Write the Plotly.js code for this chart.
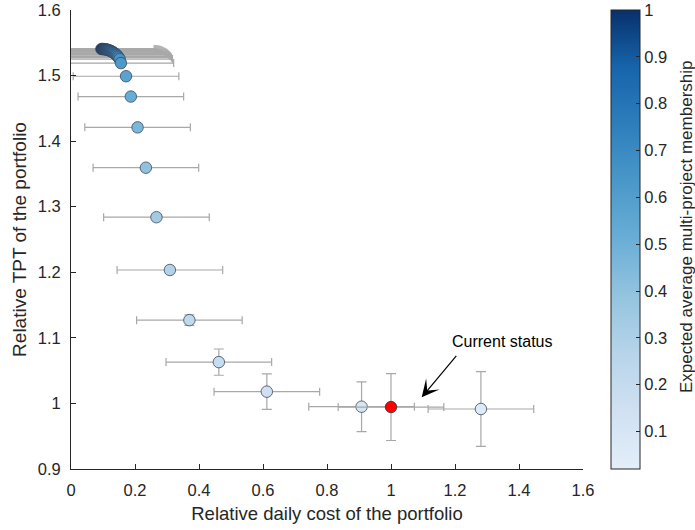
<!DOCTYPE html>
<html>
<head>
<meta charset="utf-8">
<script src="https://cdn.plot.ly/plotly-3.0.1.min.js"></script>
<style>html,body{margin:0;padding:0;background:#fff;}#chart{width:695px;height:530px;}</style>
</head>
<body>
<div id="chart"></div>
<script>
// Blue points (portfolio scenarios), ordered darkest to lightest
const cost = [0.095,0.098,0.101,0.104,0.107,0.110,0.113,0.116,0.119,0.122,0.125,0.128,0.131,0.134,0.137,0.140,0.143,0.146,0.149,0.152,
              0.156,0.172,0.187,0.208,0.234,0.267,0.309,0.370,0.462,0.612,0.908,1.281];
const tpt  = [1.5405,1.5405,1.5404,1.5403,1.5401,1.5398,1.5395,1.539,1.5385,1.538,1.5372,1.5365,1.5357,1.5347,1.5336,1.5323,1.531,1.5293,1.5275,1.5252,
              1.519,1.499,1.468,1.421,1.3595,1.284,1.2035,1.127,1.063,1.018,0.995,0.9915];
const costErr = [0.165,0.165,0.165,0.165,0.165,0.165,0.165,0.165,0.165,0.165,0.165,0.165,0.165,0.165,0.165,0.165,0.165,0.165,0.165,0.165,
                 0.165,0.165,0.165,0.165,0.165,0.165,0.165,0.165,0.165,0.165,0.165,0.165];
const tptErr = [0.001,0.001,0.001,0.001,0.001,0.001,0.001,0.001,0.001,0.001,0.001,0.001,0.001,0.001,0.001,0.001,0.001,0.001,0.001,0.001,
                0.001,0.001,0.0015,0.002,0.002,0.003,0.004,0.008,0.020,0.027,0.038,0.057];
const membership = [1.0,0.99,0.975,0.96,0.945,0.93,0.91,0.895,0.875,0.86,0.84,0.82,0.80,0.78,0.76,0.74,0.72,0.70,0.68,0.655,
                    0.62,0.57,0.52,0.46,0.40,0.34,0.28,0.23,0.19,0.15,0.10,0.06];
// Current status point
const curCost = [1.0];
const curTpt = [0.9945];
const curCostErr = [0.165];
const curTptErr = [0.051];

const xTicks = [0,0.2,0.4,0.6,0.8,1,1.2,1.4,1.6];
const yTicks = [0.9,1,1.1,1.2,1.3,1.4,1.5,1.6];
const cbTicks = [0.1,0.2,0.3,0.4,0.5,0.6,0.7,0.8,0.9,1];

const blues = [[0,'#e3eef9'],[0.125,'#d0e1f2'],[0.25,'#b7d4ea'],[0.375,'#94c4df'],[0.5,'#6aaed6'],
               [0.625,'#4a98c9'],[0.75,'#2e7ebc'],[0.875,'#1764ab'],[1,'#08306b']];

const errStyle = {color:'#a8a8a8', thickness:1.2};
const font = 'Liberation Sans, Arial, Helvetica, sans-serif';
const axCol = '#262626';

const traces = [
  {
    type:'scatter', mode:'markers', x:cost, y:tpt,
    error_x:Object.assign({type:'data', array:costErr, visible:true, width:4}, errStyle),
    error_y:Object.assign({type:'data', array:tptErr, visible:true, width:5}, errStyle),
    marker:{size:11.5, color:membership, colorscale:blues, cmin:0.02, cmax:1,
      line:{color:'#3b4a5a', width:0.8},
      colorbar:{thickness:29, thicknessmode:'pixels', len:459, lenmode:'pixels',
        x:1.0547, xanchor:'left', y:1, yanchor:'top', xpad:0, ypad:0,
        outlinecolor:axCol, outlinewidth:1, ticks:'inside', ticklen:4, tickcolor:axCol,
        tickvals:cbTicks, ticktext:cbTicks.map(String), tickfont:{size:16.5, color:axCol, family:font}}
    },
    showlegend:false, hoverinfo:'x+y'
  },
  {
    type:'scatter', mode:'markers', x:curCost, y:curTpt,
    error_x:Object.assign({type:'data', array:curCostErr, visible:true, width:4}, errStyle),
    error_y:Object.assign({type:'data', array:curTptErr, visible:true, width:5}, errStyle),
    marker:{size:11.5, color:'#ff0000', line:{color:'#333333', width:0.8}},
    showlegend:false
  }
];

const layout = {
  width:695, height:530,
  margin:{l:71, r:112, t:10, b:61, pad:0},
  paper_bgcolor:'#ffffff', plot_bgcolor:'#ffffff',
  font:{family:font, color:axCol, size:16},
  xaxis:{range:[0,1.6], tickvals:xTicks, ticktext:xTicks.map(String), ticks:'inside', ticklen:5, tickcolor:axCol,
    showline:true, linecolor:axCol, linewidth:1, showgrid:false, zeroline:false, ticklabelstandoff:6,
    tickfont:{size:16.5, color:axCol},
    title:{text:'Relative daily cost of the portfolio', font:{size:18.5, color:axCol}, standoff:9}},
  yaxis:{range:[0.9,1.6], tickvals:yTicks, ticktext:yTicks.map(String), ticks:'inside', ticklen:5, tickcolor:axCol,
    showline:true, linecolor:axCol, linewidth:1, showgrid:false, zeroline:false, ticklabelstandoff:6,
    tickfont:{size:16.5, color:axCol},
    title:{text:'Relative TPT of the portfolio', font:{size:19, color:axCol}, standoff:6}},
  annotations:[
    {x:1.096, y:1.0093, xref:'x', yref:'y', text:'', showarrow:true, ax:35, ay:-42, axref:'pixel', ayref:'pixel',
     arrowhead:3, arrowsize:2.4, arrowwidth:1.2, arrowcolor:'#000000', font:{size:1}, borderpad:0},
    {x:1.346, y:1.094, xref:'x', yref:'y', text:'Current status', showarrow:false,
     font:{size:16, color:'#000000', family:font}, xanchor:'center', yanchor:'middle'},
    {x:1.2012, y:0.527, xref:'paper', yref:'paper', text:'Expected average multi-project membership', showarrow:false,
     textangle:-90, xanchor:'center', yanchor:'middle', font:{size:17, color:axCol, family:font}}
  ]
};

Plotly.newPlot('chart', traces, layout, {displayModeBar:false, staticPlot:true});
</script>
</body>
</html>
